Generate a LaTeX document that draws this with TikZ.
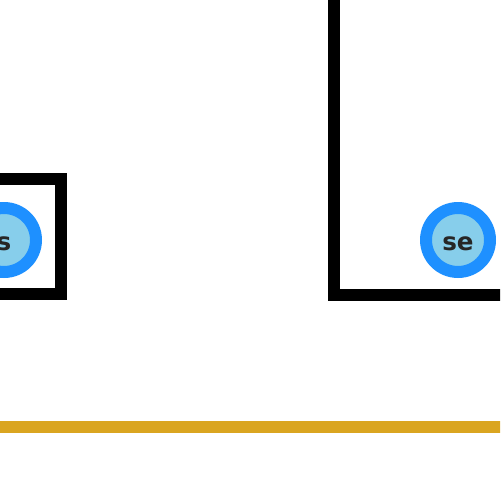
\documentclass[tikz,border=0pt]{standalone}
\usepackage{fontspec}
\setmainfont{DejaVu Sans}
\usepackage{tikz}

\definecolor{ringblue}{RGB}{30,144,255}
\definecolor{fillblue}{RGB}{135,206,235}
\definecolor{rulegold}{RGB}{218,165,32}

\begin{document}
\begin{tikzpicture}[x=0.02cm, y=-0.02cm, every node/.style={draw=ringblue, fill=fillblue, circle, line width=0.24cm, minimum size=1.28cm, inner sep=0pt, text height=0.42cm, text=black!85, font=\fontsize{14}{14}\selectfont\bfseries} ]
        \useasboundingbox (0,0) rectangle (500,500);
        \clip (0,0) rectangle (500,500);
        \draw[line width=0.25cm] (-40,179) -- (61,179) -- (61,294) -- (-40,294);
        \draw[line width=0.25cm] (334,-40) -- (334,295) -- (540,295);
        \node (s) at (4,240) {s};
        \node (se) at (458,240) {se};
        \draw[rulegold, line width=0.23cm] (-10,427) -- (510,427);
    \end{tikzpicture}
\end{document}
